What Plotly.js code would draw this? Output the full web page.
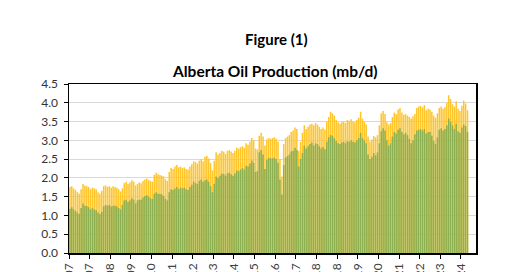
<!DOCTYPE html>
<html>
<head>
<meta charset="utf-8">
<script src="https://cdn.plot.ly/plotly-3.0.1.min.js"></script>
<style>html,body{margin:0;padding:0;background:#fff;}#chart{width:520px;height:272px;}</style>
</head>
<body>
<div id="chart"></div>
<script>
// Monthly data, Jan 2007 .. Sep 2024 (mb/d)
const startYear = 2007;
// Total production (top of the yellow bars)
const totalProduction = [
  1.76,1.78,1.72,1.68,1.62,1.58,1.70,1.84,1.80,1.78,1.76,1.70, // 2007
  1.74,1.72,1.70,1.62,1.58,1.66,1.78,1.80,1.76,1.78,1.74,1.78, // 2008
  1.76,1.74,1.70,1.64,1.72,1.86,1.90,1.84,1.88,1.94,1.90,1.80, // 2009
  1.84,1.88,1.86,1.92,1.96,1.98,1.94,1.92,1.90,2.08,2.14,2.10, // 2010
  2.08,2.06,2.04,1.96,1.92,2.16,2.26,2.24,2.30,2.34,2.28,2.30, // 2011
  2.26,2.28,2.24,2.22,2.30,2.36,2.44,2.42,2.38,2.46,2.50,2.44, // 2012
  2.56,2.58,2.52,2.40,2.20,2.46,2.68,2.62,2.66,2.72,2.70,2.64, // 2013
  2.72,2.74,2.70,2.66,2.72,2.80,2.78,2.82,2.84,2.80,2.92,2.88, // 2014
  2.96,3.06,3.00,2.78,2.76,3.12,3.20,3.10,2.86,3.02,3.06,3.04, // 2015
  3.06,3.08,3.04,2.96,2.50,2.04,2.90,3.06,3.10,3.14,3.22,3.26, // 2016
  3.34,3.30,2.72,2.96,3.20,3.40,3.30,3.36,3.42,3.44,3.40,3.46, // 2017
  3.42,3.36,3.30,3.34,3.28,3.50,3.62,3.76,3.72,3.66,3.54,3.48, // 2018
  3.44,3.48,3.50,3.46,3.54,3.52,3.56,3.50,3.48,3.54,3.60,3.76, // 2019
  3.58,3.50,3.42,3.10,2.96,3.02,3.12,3.08,3.14,3.40,3.72,3.78, // 2020
  3.70,3.48,3.42,3.46,3.62,3.74,3.70,3.82,3.86,3.74,3.68,3.70, // 2021
  3.66,3.62,3.58,3.64,3.70,3.86,3.90,3.92,3.88,3.94,3.80,3.84, // 2022
  3.82,3.76,3.66,3.60,3.72,3.86,3.90,3.84,3.88,4.00,4.20,4.10, // 2023
  3.96,3.90,4.04,3.84,3.78,3.92,4.06,3.98,3.80                 // 2024
];
// Oil sands production (green bars)
const oilSands = [
  1.18,1.22,1.16,1.12,1.08,1.04,1.20,1.32,1.26,1.25,1.22,1.16, // 2007
  1.20,1.16,1.14,1.08,1.04,1.10,1.24,1.28,1.26,1.28,1.24,1.26, // 2008
  1.26,1.24,1.20,1.16,1.28,1.40,1.42,1.36,1.40,1.46,1.42,1.32, // 2009
  1.40,1.42,1.42,1.48,1.52,1.54,1.50,1.46,1.44,1.58,1.62,1.58, // 2010
  1.58,1.56,1.52,1.44,1.40,1.62,1.70,1.68,1.72,1.76,1.70,1.74, // 2011
  1.72,1.74,1.70,1.68,1.76,1.82,1.90,1.86,1.84,1.92,1.96,1.90, // 2012
  1.94,1.96,1.90,1.78,1.62,1.84,2.04,2.00,2.06,2.12,2.10,2.06, // 2013
  2.12,2.14,2.10,2.06,2.12,2.20,2.18,2.22,2.26,2.22,2.32,2.30, // 2014
  2.38,2.46,2.40,2.16,2.18,2.68,2.74,2.62,2.24,2.48,2.54,2.52, // 2015
  2.52,2.54,2.50,2.40,1.96,1.56,2.34,2.54,2.58,2.62,2.70,2.72, // 2016
  2.80,2.74,2.30,2.50,2.66,2.86,2.78,2.84,2.90,2.94,2.86,2.92, // 2017
  2.90,2.84,2.78,2.82,2.76,2.96,3.08,3.14,3.12,3.06,2.98,2.92, // 2018
  2.90,2.94,2.96,2.92,2.98,2.96,3.00,2.96,2.94,3.00,3.06,3.20, // 2019
  3.06,3.00,2.92,2.62,2.50,2.56,2.66,2.60,2.68,2.92,3.24,3.32, // 2020
  3.26,3.00,2.86,2.92,3.10,3.22,3.18,3.28,3.32,3.22,3.16,3.20, // 2021
  3.14,3.04,2.92,3.00,3.16,3.26,3.28,3.30,3.26,3.30,3.18,3.22, // 2022
  3.22,3.12,2.98,2.90,3.08,3.28,3.32,3.26,3.30,3.40,3.58,3.50, // 2023
  3.40,3.30,3.44,3.24,3.20,3.34,3.42,3.38,3.22                 // 2024
];
const tickDates = ["2007-01-01","2007-12-01","2008-11-01","2009-10-01","2010-09-01","2011-08-01","2012-07-01","2013-06-01","2014-05-01","2015-04-01","2016-03-01","2017-02-01","2018-01-01","2018-12-01","2019-11-01","2020-10-01","2021-09-01","2022-08-01","2023-07-01","2024-06-01"];
const tickLabels = ["Jan-07","Dec-07","Nov-08","Oct-09","Sep-10","Aug-11","Jul-12","Jun-13","May-14","Apr-15","Mar-16","Feb-17","Jan-18","Dec-18","Nov-19","Oct-20","Sep-21","Aug-22","Jul-23","Jun-24"];
const yTicks = [0,0.5,1,1.5,2,2.5,3,3.5,4,4.5];
const yTickLabels = ["0.0","0.5","1.0","1.5","2.0","2.5","3.0","3.5","4.0","4.5"];

const months = totalProduction.map((_, i) => {
  const y = startYear + Math.floor(i / 12);
  const m = (i % 12) + 1;
  return y + "-" + (m < 10 ? "0" + m : m);
});

const common = {type: "bar", x: months, xperiod: "M1", xperiodalignment: "middle", hoverinfo: "x+y"};
const traces = [
  Object.assign({}, common, {name: "Total", y: totalProduction, marker: {color: "#FFC52C", line: {width: 0}}}),
  Object.assign({}, common, {name: "Oil sands", y: oilSands, marker: {color: "#8DB053", line: {width: 0}}})
];

const layout = {
  width: 520, height: 272,
  margin: {l: 69, r: 44, t: 84, b: 19, pad: 0},
  paper_bgcolor: "#ffffff", plot_bgcolor: "#ffffff",
  barmode: "overlay", bargap: 0.16,
  showlegend: false,
  font: {family: "Lato, 'Open Sans', sans-serif", size: 12, color: "#404040"},
  xaxis: {
    type: "date",
    range: ["2007-01-01", "2025-02-01"],
    tickmode: "array", tickvals: tickDates, ticktext: tickLabels,
    tickangle: -90, ticks: "outside", ticklen: 4, tickcolor: "#000", tickwidth: 1,
    showline: true, linecolor: "#000", linewidth: 1.5, mirror: true,
    showgrid: false, zeroline: false, automargin: false,
    tickfont: {size: 12, color: "#404040"}
  },
  yaxis: {
    range: [0, 4.5],
    tickmode: "array", tickvals: yTicks, ticktext: yTickLabels,
    ticks: "outside", ticklen: 4, tickcolor: "#000", tickwidth: 1,
    showline: true, linecolor: "#000", linewidth: 1.5, mirror: true,
    showgrid: true, gridcolor: "#D9D9D9", gridwidth: 1, zeroline: false,
    automargin: false, ticklabelstandoff: 3,
    tickfont: {size: 12, color: "#333333"}
  },
  annotations: [
    {text: "<b>Figure (1)</b>", xref: "paper", yref: "paper", x: 0.511, y: 1.265,
     xanchor: "center", yanchor: "middle", showarrow: false,
     font: {family: "Lato, 'Open Sans', sans-serif", size: 15, color: "#000"}},
    {text: "<b>Alberta Oil Production (mb/d)</b>", xref: "paper", yref: "paper", x: 0.506, y: 1.075,
     xanchor: "center", yanchor: "middle", showarrow: false,
     font: {family: "Lato, 'Open Sans', sans-serif", size: 15.5, color: "#000"}}
  ]
};

Plotly.newPlot("chart", traces, layout, {displayModeBar: false, staticPlot: true});
</script>
</body>
</html>
